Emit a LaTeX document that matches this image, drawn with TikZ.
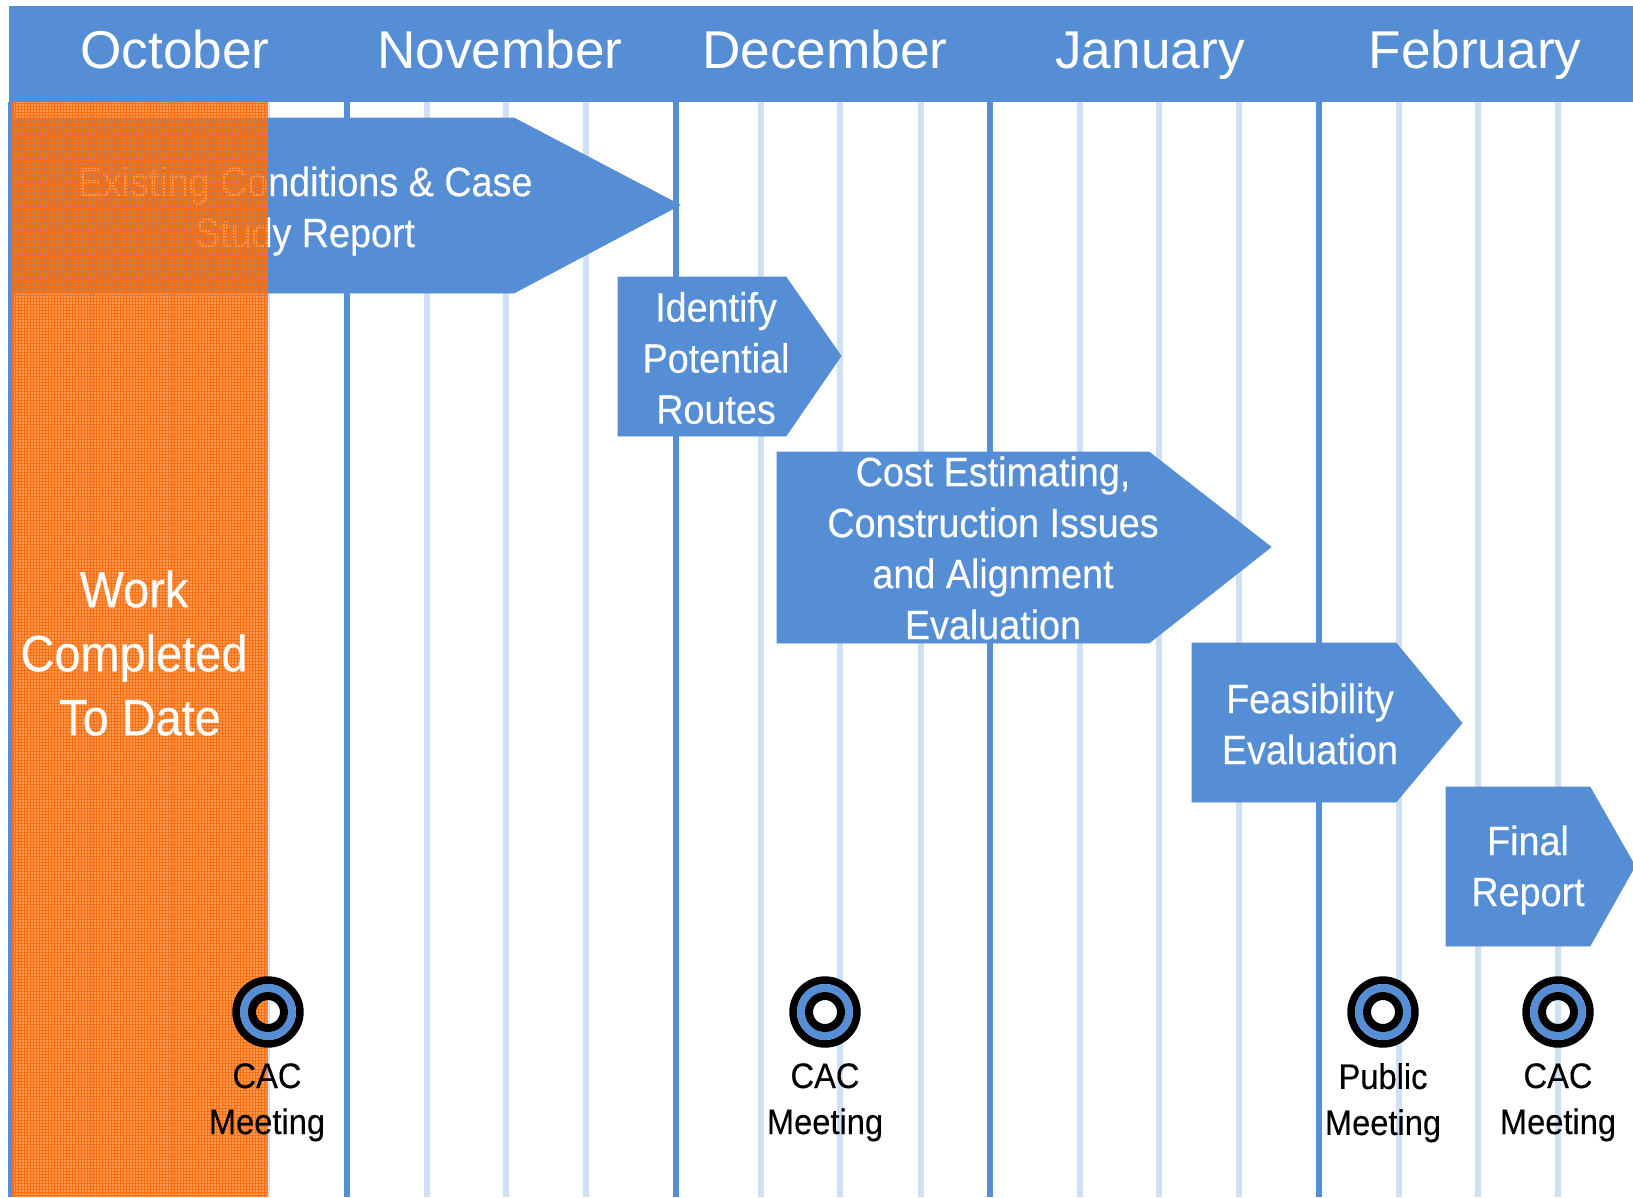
\documentclass[tikz,border=0pt]{standalone}
\usepackage{fontspec}
\setmainfont{Liberation Sans}
\newfontfamily\narrowfont[FakeStretch = 0.92, FakeBold = 0.25]{Liberation Sans}
\definecolor{barblue}{HTML}{558ED5}
\definecolor{weekblue}{HTML}{CFE0F4}
\definecolor{doneorange}{HTML}{FA700F}
\tikzset{
  month/.style = {white, anchor = base, font = \fontsize{53.2}{60}\selectfont},
  monthline/.style = {barblue, line width = 6pt},
  weekline/.style = {weekblue, line width = 6pt},
  task/.style = {fill = barblue, draw = barblue, line width = .8pt},
  tasktext/.style = {white, align = center, font = \narrowfont\fontsize{41}{51}\selectfont},
  meetingtext/.style = {black, anchor = north, inner sep = 0pt, align = center,
    font = \narrowfont\fontsize{35.5}{46}\selectfont, execute at begin node = \rule{0pt}{28pt}},
}
\newcommand{\meetingring}[1]{
  \draw[black, line width = 7.7pt] (#1) circle[radius = 31.85pt];
  \draw[barblue, line width = 8pt] (#1) circle[radius = 24pt];
  \draw[black, line width = 8pt] (#1) circle[radius = 16pt];
}

\begin{document}
\begin{tikzpicture}[x = 1pt, y = -1pt]
  \useasboundingbox (0, 0) rectangle (1633, 1197);
  \clip (0, 0) rectangle (1633, 1197);

  % weeks and months
  \foreach \x in {92, 173, 267, 427, 506, 586, 761, 840, 921, 1080, 1159, 1239, 1399, 1478, 1558}
    \draw[weekline] (\x, 102) -- (\x, 1197);
  \foreach \x in {10.5, 347, 676, 989.5, 1319}
    \draw[monthline] (\x, 102) -- (\x, 1197);

  \fill[barblue] (9, 6) rectangle (1633, 102);
  \node[month] (oct) at (175, 68) {October};
  \node[month] (nov) at (500, 68) {November};
  \node[month] (dec) at (825, 68) {December};
  \node[month] (jan) at (1150, 68) {January};
  \node[month] (feb) at (1475, 68) {February};

  % tasks
  \draw[task] (12, 118) -- (514, 118) -- (680, 205) -- (514, 293) -- (12, 293) -- cycle;
  \node[tasktext] (existing) at (305, 211) {Existing Conditions \& Case\\Study Report};

  \draw[task] (618, 277) -- (786, 277) -- (841, 356) -- (786, 436) -- (618, 436) -- cycle;
  \node[tasktext] (routes) at (716, 358) {Identify\\Potential\\Routes};

  \draw[task] (777, 452) -- (1149, 452) -- (1271, 547) -- (1149, 643) -- (777, 643) -- cycle;
  \node[tasktext] (cost) at (993, 548) {Cost Estimating,\\Construction Issues\\and Alignment\\Evaluation};

  \draw[task] (1192, 643) -- (1396, 643) -- (1462, 723) -- (1396, 802) -- (1192, 802) -- cycle;
  \node[tasktext] (feasibility) at (1310, 724) {Feasibility\\Evaluation};

  \draw[task] (1446, 787) -- (1590, 787) -- (1635, 866) -- (1590, 946) -- (1446, 946) -- cycle;
  \node[tasktext] (final) at (1528, 870) {Final\\Report};

  % work done so far
  \fill[doneorange, opacity = .7] (12, 102) rectangle (268, 1197);
  \foreach \x in {12.5, 15.5, ..., 267}
    \draw[doneorange, line width = 1.7pt] (\x, 102) -- (\x, 1197);
  \foreach \y in {103.5, 106.5, ..., 1197}
    \draw[doneorange, line width = 1.7pt] (12, \y) -- (268, \y);
  \node[white, align = center, font = \narrowfont\fontsize{51}{64}\selectfont] (done) at (134, 653) {Work\\Completed\\\hspace*{12pt}To Date};

  % meetings
  \coordinate (m1) at (268, 1012);
  \coordinate (m2) at (825, 1012);
  \coordinate (m3) at (1383, 1012);
  \coordinate (m4) at (1558, 1012);
  \foreach \m in {m1, m2, m3, m4}
    \meetingring{\m};
  \node[meetingtext] (cac1) at (267, 1063) {CAC\\Meeting};
  \node[meetingtext] (cac2) at (825, 1063) {CAC\\Meeting};
  \node[meetingtext] (public) at (1383, 1063) {Public\\Meeting};
  \node[meetingtext] (cac3) at (1558, 1063) {CAC\\Meeting};
\end{tikzpicture}
\end{document}
